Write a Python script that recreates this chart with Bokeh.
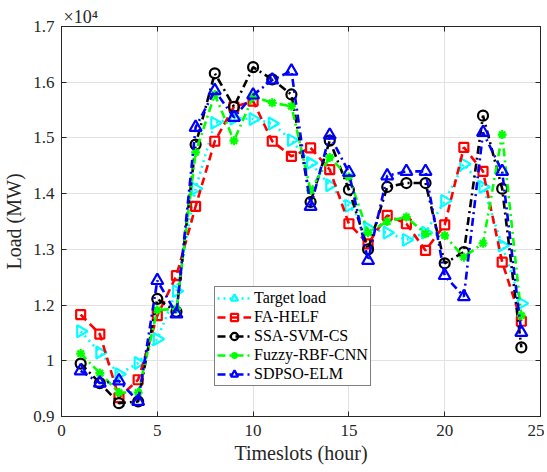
import math
from bokeh.plotting import figure
from bokeh.models import Legend, LegendItem, LinearAxis, FixedTicker, Range1d
from bokeh.embed import file_html
from bokeh.resources import INLINE

hours = list(range(1, 25))

target_load = [11530, 11150, 10760, 10960, 11390, 12250, 14090, 15270, 15350, 15340, 15260, 14960,
               14550, 14150, 13780, 13380, 13300, 13170, 13300, 13870, 14530, 14120, 13070, 12030]
fa_helf = [11830, 11480, 10340, 10660, 11810, 12530, 13770, 14940, 15560, 15660, 14940, 14670,
           14820, 14430, 13460, 13100, 13610, 13460, 12980, 13440, 14830, 14400, 12770, 11710]
ssa_svm_cs = [10950, 10600, 10240, 10270, 12110, 11880, 14880, 16160, 15560, 16270, 16050, 15780,
              13850, 14950, 14070, 13000, 14120, 14190, 14190, 12750, 12950, 15400, 14090, 11240]
fuzzy_rbf_cnn = [11130, 10780, 10430, 10430, 11910, 11930, 14740, 15780, 14950, 15740, 15630, 15570,
                 14060, 14650, 14300, 13300, 13500, 13580, 13280, 13250, 12860, 13110, 15060, 11810]
sdpso_elm = [10820, 10600, 10640, 10270, 12440, 11840, 15190, 15850, 15370, 15770, 16040, 16200,
             13770, 15050, 14380, 12800, 14320, 14400, 14400, 12530, 12150, 15100, 14400, 11510]

x_ticks = [0, 5, 10, 15, 20, 25]
y_ticks = [10000, 11000, 12000, 13000, 14000, 15000, 16000, 17000]
y_tick_labels = ["0.9", "1", "1.2", "1.3", "1.4", "1.5", "1.6", "1.7"]
exponent_text = "×10⁴"

FONT = "'Liberation Serif'"
AX = "#262626"

p = figure(frame_width=479, frame_height=390, output_backend="svg", toolbar_location=None,
           x_range=Range1d(0, 25), y_range=Range1d(10000, 17000),
           min_border_left=52, min_border_top=26, min_border_right=4, min_border_bottom=40)
p.background_fill_color = "white"
p.border_fill_color = "white"
p.outline_line_color = AX
p.outline_line_width = 1

p.title.text = exponent_text
p.title.align = "left"
p.title.offset = 2
p.title.standoff = 0
p.title.text_font = FONT
p.title.text_font_size = "18px"
p.title.text_font_style = "normal"
p.title.text_color = AX

for ax in [p.xaxis[0], p.yaxis[0]]:
    ax.major_tick_in = 5
    ax.major_tick_out = 0
    ax.minor_tick_in = 0
    ax.minor_tick_out = 0
    ax.axis_line_color = AX
    ax.major_tick_line_color = AX
    ax.major_label_text_font = FONT
    ax.major_label_text_font_size = "17px"
    ax.major_label_text_color = AX
    ax.axis_label_text_font = FONT
    ax.axis_label_text_font_size = "20px"
    ax.axis_label_text_font_style = "normal"
    ax.axis_label_text_color = AX

p.xaxis.ticker = FixedTicker(ticks=x_ticks)
p.yaxis.ticker = FixedTicker(ticks=y_ticks)
p.yaxis.major_label_overrides = {t: l for t, l in zip(y_ticks, y_tick_labels)}
p.xaxis.axis_label = "Timeslots (hour)"
p.yaxis.axis_label = "Load (MW)"
p.xaxis.major_label_standoff = 8
p.xaxis.axis_label_standoff = 3
p.yaxis.major_label_standoff = 7
p.yaxis.axis_label_standoff = 5

# mirrored axes (box with inward ticks), no labels
top = LinearAxis(ticker=FixedTicker(ticks=x_ticks),
                 major_label_overrides={t: "" for t in x_ticks},
                 major_tick_in=5, major_tick_out=0, minor_tick_in=0, minor_tick_out=0,
                 major_label_standoff=0, axis_line_color=AX, major_tick_line_color=AX)
right = LinearAxis(ticker=FixedTicker(ticks=y_ticks),
                   major_label_overrides={t: "" for t in y_ticks},
                   major_tick_in=5, major_tick_out=0, minor_tick_in=0, minor_tick_out=0,
                   major_label_standoff=0, axis_line_color=AX, major_tick_line_color=AX)
p.add_layout(top, "above")
p.add_layout(right, "right")

p.xgrid.ticker = FixedTicker(ticks=x_ticks)
p.ygrid.ticker = FixedTicker(ticks=y_ticks)
p.grid.grid_line_color = "#e2e2e2"
p.grid.grid_line_width = 1

series = [
    ("Target load", target_load, "#00ffff", "2 4", "triangle", 12, -math.pi / 2),
    ("FA-HELF", fa_helf, "#ff0000", "8 5", "square", 9, 0.0),
    ("SSA-SVM-CS", ssa_svm_cs, "#000000", "8 4 2 4", "circle", 10, 0.0),
    ("Fuzzy-RBF-CNN", fuzzy_rbf_cnn, "#00ff00", "8 4 2 4", "asterisk", 9, 0.0),
    ("SDPSO-ELM", sdpso_elm, "#0000ff", "8 4 2 4", "triangle", 12, 0.0),
]

items = []
for name, vals, col, dash, marker, size, ang in series:
    r1 = p.line(hours, vals, line_color=col, line_width=2.6, line_dash=dash)
    r2 = p.scatter(hours, vals, marker=marker, size=size, angle=ang, angle_units="rad",
                   line_color=col, fill_color=None, line_width=2.2)
    items.append(LegendItem(label=name, renderers=[r1, r2]))

legend = Legend(items=items, location=(153, 30), border_line_color="#000000",
                border_line_width=1, background_fill_color="white", background_fill_alpha=1,
                label_text_font=FONT, label_text_font_size="16px", label_text_color="#000000",
                glyph_width=34, glyph_height=18, label_height=18, spacing=1, padding=2,
                margin=0, label_standoff=3)
p.add_layout(legend)

open("out.html", "w").write(file_html(p, INLINE))
